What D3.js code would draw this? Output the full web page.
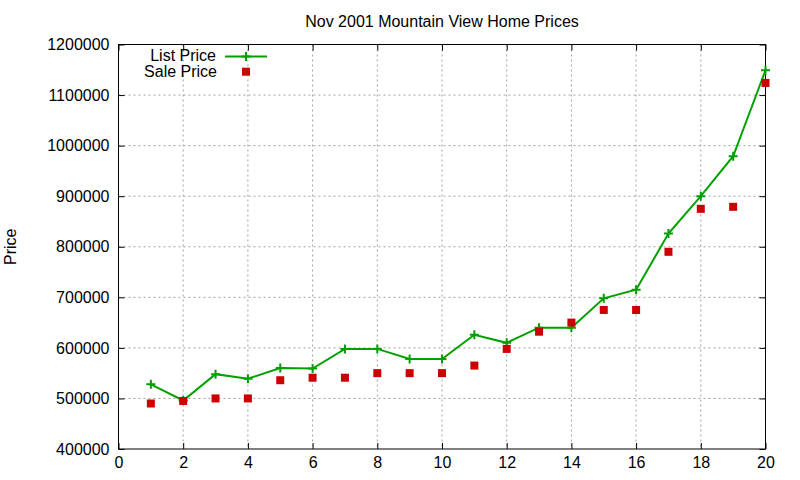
<!DOCTYPE html>
<html>
<head>
<meta charset="utf-8">
<script src="https://cdn.jsdelivr.net/npm/d3@7"></script>
<style>
  body { margin: 0; background: #fff; }
  svg { display: block; font-family: "Liberation Sans", Arial, sans-serif; }
</style>
</head>
<body>
<div id="chart"></div>
<script>
// House index (1..20) and prices
const houses = d3.range(1, 21);
const listPrice = [528000, 496000, 548000, 539000, 560000, 559000, 598000, 598000, 578000, 578000,
                   626000, 610000, 640000, 640000, 698000, 715000, 826000, 900000, 979000, 1149000];
const salePrice = [490000, 495000, 500000, 500000, 536000, 541000, 541000, 550000, 550000, 550000,
                   565000, 598000, 632000, 650000, 675000, 675000, 790000, 875000, 879000, 1124000];
const xTicks = d3.range(0, 21, 2);
const yTicks = d3.range(400000, 1200001, 100000);

const width = 800, height = 480;
const plotLeft = 118.5, plotRight = 765.5, plotTop = 44.5, plotBottom = 449;

const svg = d3.select('#chart').append('svg')
  .attr('width', width)
  .attr('height', height);

const x = d3.scaleLinear().domain([0, 20]).range([plotLeft, plotRight]);
const y = d3.scaleLinear().domain([400000, 1200000]).range([plotBottom, plotTop]);

// Grid (dotted grey)
const grid = svg.append('g').attr('stroke', '#a0a0a0').attr('stroke-dasharray', '2,3');
grid.selectAll('line.gx')
  .data(xTicks.slice(1, -1))
  .enter().append('line')
  .attr('x1', d => x(d)).attr('x2', d => x(d))
  .attr('y1', plotTop).attr('y2', plotBottom);
grid.selectAll('line.gy')
  .data(yTicks.slice(1, -1))
  .enter().append('line')
  .attr('x1', plotLeft).attr('x2', plotRight)
  .attr('y1', d => y(d)).attr('y2', d => y(d));

// Axes with inward ticks, mirrored on top/right
const styleAxis = g => {
  g.select('.domain').remove();
  g.selectAll('text').attr('font-size', 16).attr('fill', '#000')
    .attr('font-family', '"Liberation Sans", Arial, sans-serif');
  g.selectAll('line').attr('stroke', '#000');
};

svg.append('g')
  .attr('transform', `translate(0,${plotBottom})`)
  .call(d3.axisBottom(x).tickValues(xTicks).tickSize(-6).tickPadding(8))
  .call(styleAxis);
svg.append('g')
  .attr('transform', `translate(${plotLeft},0)`)
  .call(d3.axisLeft(y).tickValues(yTicks).tickSize(-6).tickPadding(9).tickFormat(d3.format('d')))
  .call(styleAxis);
svg.append('g')
  .attr('transform', `translate(0,${plotTop})`)
  .call(d3.axisTop(x).tickValues(xTicks).tickSize(-6).tickFormat(''))
  .call(styleAxis);
svg.append('g')
  .attr('transform', `translate(${plotRight},0)`)
  .call(d3.axisRight(y).tickValues(yTicks).tickSize(-6).tickFormat(''))
  .call(styleAxis);

// Border
svg.append('rect')
  .attr('x', plotLeft).attr('y', plotTop)
  .attr('width', plotRight - plotLeft).attr('height', plotBottom - plotTop)
  .attr('fill', 'none').attr('stroke', '#000');

// Title and axis label
svg.append('text')
  .attr('x', (plotLeft + plotRight) / 2).attr('y', 27)
  .attr('text-anchor', 'middle').attr('font-size', 16)
  .text('Nov 2001 Mountain View Home Prices');
svg.append('text')
  .attr('transform', `translate(16,${(plotTop + plotBottom) / 2}) rotate(-90)`)
  .attr('text-anchor', 'middle').attr('font-size', 16)
  .text('Price');

const green = '#00a000', red = '#cc0000';
const crossPath = s => `M${-s},0H${s}M0,${-s}V${s}`;

// List price line + plus markers
const line = d3.line().x((d, i) => x(houses[i])).y(d => y(d));
svg.append('path')
  .datum(listPrice)
  .attr('d', line)
  .attr('fill', 'none').attr('stroke', green).attr('stroke-width', 2);
svg.selectAll('path.lp')
  .data(listPrice)
  .enter().append('path')
  .attr('class', 'lp')
  .attr('transform', (d, i) => `translate(${x(houses[i])},${y(d)})`)
  .attr('d', crossPath(4.5))
  .attr('stroke', green).attr('stroke-width', 2);

// Sale price squares
svg.selectAll('rect.sp')
  .data(salePrice)
  .enter().append('rect')
  .attr('class', 'sp')
  .attr('x', (d, i) => x(houses[i]) - 4).attr('y', d => y(d) - 4)
  .attr('width', 8).attr('height', 8)
  .attr('fill', red);

// Legend
const legend = svg.append('g').attr('font-size', 16);
legend.append('text').attr('x', 216).attr('y', 61).attr('text-anchor', 'end').text('List Price');
legend.append('line').attr('x1', 225).attr('x2', 267).attr('y1', 56.5).attr('y2', 56.5)
  .attr('stroke', green).attr('stroke-width', 2);
legend.append('path').attr('transform', 'translate(246,56.5)').attr('d', crossPath(4.5))
  .attr('stroke', green).attr('stroke-width', 2);
legend.append('text').attr('x', 217).attr('y', 77).attr('text-anchor', 'end').text('Sale Price');
legend.append('rect').attr('x', 242).attr('y', 67.7).attr('width', 8).attr('height', 8).attr('fill', red);
</script>
</body>
</html>
